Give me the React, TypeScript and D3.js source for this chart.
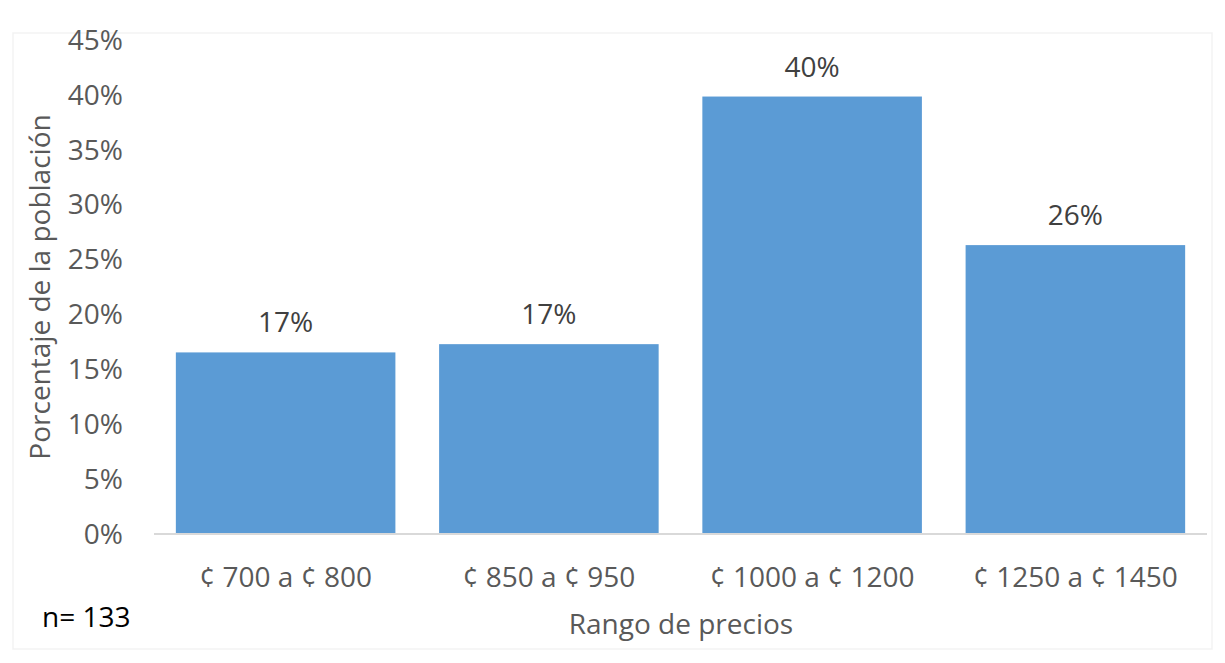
import React from "react";
import * as d3 from "d3";

const categories = ["¢ 700 a ¢ 800", "¢ 850 a ¢ 950", "¢ 1000 a ¢ 1200", "¢ 1250 a ¢ 1450"];
const counts = [22, 23, 53, 35];
const sampleSize = 133;
const shares = counts.map((c) => c / sampleSize);
const yTicks = [0, 0.05, 0.1, 0.15, 0.2, 0.25, 0.3, 0.35, 0.4, 0.45];

const W = 1225;
const H = 663;
const FONT = "'Open Sans', sans-serif";
const FS = 28;

export default function App() {
  const x = d3
    .scaleBand<string>()
    .domain(categories)
    .range([154, 1207])
    .paddingInner(0.166)
    .paddingOuter(0.083);
  const y = d3.scaleLinear().domain([0, 0.45]).range([534, 40]);
  const pct = d3.format(".0%");

  return (
    <svg
      width={W}
      height={H}
      style={{ position: "absolute", left: 0, top: 0, background: "#ffffff" }}
    >
      <rect x={13} y={33} width={1199} height={616} fill="#ffffff" stroke="#f3f3f3" strokeWidth={1.5} />

      {yTicks.map((t) => (
        <text
          key={t}
          x={123}
          y={y(t)}
          dy="0.35em"
          textAnchor="end"
          fontFamily={FONT}
          fontSize={FS}
          fill="#595959"
        >
          {pct(t)}
        </text>
      ))}

      {categories.map((c, i) => (
        <g key={c}>
          <rect
            x={x(c)}
            y={y(shares[i])}
            width={x.bandwidth()}
            height={y(0) - y(shares[i])}
            fill="#5b9bd5"
          />
          <text
            x={(x(c) as number) + x.bandwidth() / 2}
            y={y(shares[i]) - 20}
            textAnchor="middle"
            fontFamily={FONT}
            fontSize={FS}
            fill="#404040"
          >
            {pct(shares[i])}
          </text>
          <text
            x={(x(c) as number) + x.bandwidth() / 2}
            y={577}
            dy="0.35em"
            textAnchor="middle"
            fontFamily={FONT}
            fontSize={FS}
            fill="#595959"
          >
            {c}
          </text>
        </g>
      ))}

      <line x1={154} x2={1207} y1={y(0)} y2={y(0)} stroke="#d9d9d9" strokeWidth={2} />

      <text
        transform={`translate(40, ${(y(0) + y(0.45)) / 2}) rotate(-90)`}
        dy="0.35em"
        textAnchor="middle"
        fontFamily={FONT}
        fontSize={FS}
        fill="#595959"
      >
        Porcentaje de la población
      </text>

      <text
        x={681}
        y={624}
        dy="0.35em"
        textAnchor="middle"
        fontFamily={FONT}
        fontSize={FS}
        fill="#595959"
      >
        Rango de precios
      </text>

      <text x={42} y={617} dy="0.35em" fontFamily={FONT} fontSize={FS} fill="#000000">
        n= {sampleSize}
      </text>
    </svg>
  );
}
